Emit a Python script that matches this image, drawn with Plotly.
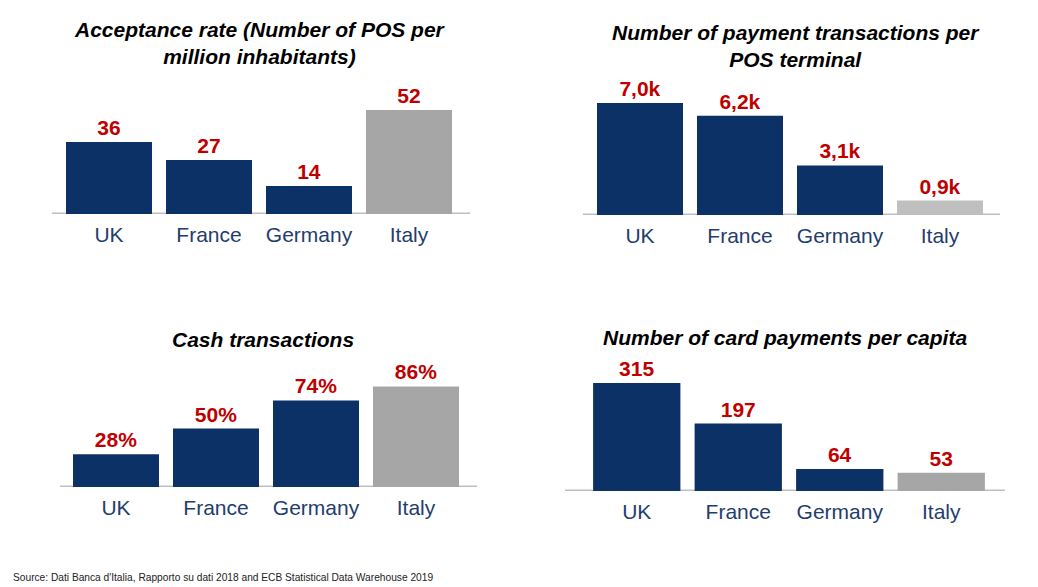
import plotly.graph_objects as go

W, H = 1038, 587

countries = ["UK", "France", "Germany", "Italy"]
acceptance = [36, 27, 14, 52]
acceptance_txt = ["36", "27", "14", "52"]
tx_per_pos = [7.0, 6.2, 3.1, 0.9]
tx_per_pos_txt = ["7,0k", "6,2k", "3,1k", "0,9k"]
cash = [28, 50, 74, 86]
cash_txt = ["28%", "50%", "74%", "86%"]
card_pc = [315, 197, 64, 53]
card_pc_txt = ["315", "197", "64", "53"]

titles = [
    "Acceptance rate (Number of POS per<br>million inhabitants)",
    "Number of payment transactions per<br>POS terminal",
    "Cash transactions",
    "Number of card payments per capita",
]

NAVY = "#0b3166"
GRAY = "#a6a6a6"
GRAY2 = "#bfbfbf"
RED = "#c00000"
LABEL = "#1f3d6d"

panels = [
    dict(vals=acceptance, txt=acceptance_txt, italy=GRAY, x0=59, x1=459, base=214, top=80, scale=2.0,
         lx0=52, lx1=470, tx=260, ty=43),
    dict(vals=tx_per_pos, txt=tx_per_pos_txt, italy=GRAY2, x0=590, x1=990, base=215, top=80, scale=16.0,
         lx0=583, lx1=1000, tx=796, ty=46),
    dict(vals=cash, txt=cash_txt, italy=GRAY, x0=66, x1=466, base=487, top=360, scale=1.17,
         lx0=60, lx1=477, tx=263, ty=339),
    dict(vals=card_pc, txt=card_pc_txt, italy=GRAY, x0=586, x1=992, base=491, top=360, scale=0.3425,
         lx0=565, lx1=1005, tx=785, ty=337),
]

fig = go.Figure()
shapes = []
annotations = []
for i, p in enumerate(panels):
    k = "" if i == 0 else str(i + 1)
    ymax = (p["base"] - p["top"]) / p["scale"]
    fig.add_trace(go.Bar(
        x=countries, y=p["vals"], text=p["txt"], textposition="outside",
        texttemplate="%{text}",
        textfont=dict(color=RED, size=21, family="Liberation Sans", weight="bold"),
        marker=dict(color=[NAVY, NAVY, NAVY, p["italy"]], line=dict(width=0)),
        width=0.86, cliponaxis=False, showlegend=False, hoverinfo="skip",
        xaxis="x" + k, yaxis="y" + k,
    ))
    fig.update_layout(**{
        "xaxis" + k: dict(domain=[p["x0"] / W, p["x1"] / W], anchor="y" + k,
                          showline=False, showgrid=False, zeroline=False, ticks="",
                          ticklabelstandoff=6,
                          tickfont=dict(color=LABEL, size=21, family="Liberation Sans"),
                          fixedrange=True),
        "yaxis" + k: dict(domain=[(H - p["base"]) / H, (H - p["top"]) / H], anchor="x" + k,
                          range=[0, ymax], visible=False, fixedrange=True),
    })
    shapes.append(dict(type="line", xref="paper", yref="y" + k,
                       x0=p["lx0"] / W, x1=p["lx1"] / W, y0=0, y1=0,
                       line=dict(color="#bfbfbf", width=3), layer="below"))
    annotations.append(dict(text="<b><i>" + titles[i] + "</i></b>", xref="paper", yref="paper",
                            x=p["tx"] / W, y=(H - p["ty"]) / H, xanchor="center", yanchor="middle",
                            showarrow=False,
                            font=dict(size=21, color="black", family="Liberation Sans")))

annotations.append(dict(text="Source: Dati Banca d'Italia, Rapporto su dati 2018 and ECB Statistical Data Warehouse 2019",
                        xref="paper", yref="paper", x=11 / W, y=(H - 577) / H,
                        xanchor="left", yanchor="middle", showarrow=False,
                        font=dict(size=10.2, color="#222222", family="Liberation Sans")))

fig.update_layout(width=W, height=H, margin=dict(l=0, r=0, t=0, b=0),
                  paper_bgcolor="white", plot_bgcolor="rgba(0,0,0,0)",
                  shapes=shapes, annotations=annotations)

fig.write_html("out.html")
